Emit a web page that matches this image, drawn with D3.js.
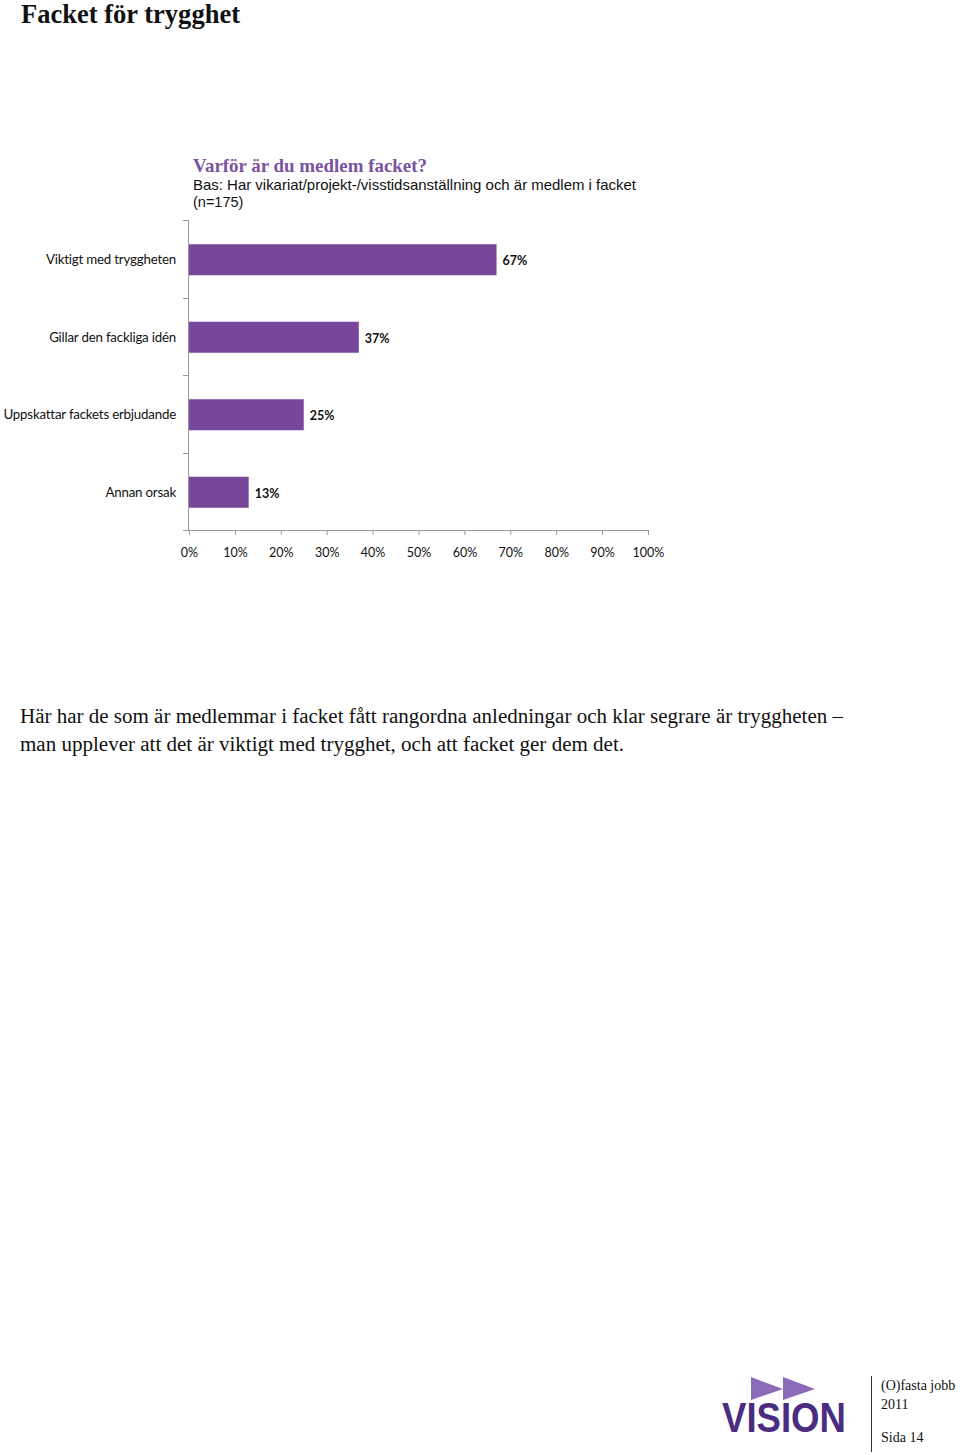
<!DOCTYPE html>
<html><head><meta charset="utf-8">
<script src="https://d3js.org/d3.v7.min.js"></script>
<style>body{margin:0;background:#fff}svg{display:block}</style>
</head><body>
<script>
const categories = ["Viktigt med tryggheten","Gillar den fackliga idén","Uppskattar fackets erbjudande","Annan orsak"];
const values = [67,37,25,13];
const tickValues = [0,10,20,30,40,50,60,70,80,90,100];
const tickLabels = ["0%","10%","20%","30%","40%","50%","60%","70%","80%","90%","100%"];

const W=960,H=1455;
const svg=d3.select("body").append("svg").attr("width",W).attr("height",H);
const purple="#78479b";

svg.append("text").attr("x",21).attr("y",22.5).attr("font-family","Liberation Serif").attr("font-weight","bold").attr("font-size",26.5).attr("fill","#111").attr("textLength",219).attr("lengthAdjust","spacingAndGlyphs").text("Facket för trygghet");

svg.append("text").attr("x",193).attr("y",172).attr("font-family","Liberation Serif").attr("font-weight","bold").attr("font-size",19.5).attr("fill","#7b52a0").attr("textLength",234).attr("lengthAdjust","spacingAndGlyphs").text("Varför är du medlem facket?");
svg.append("text").attr("x",193).attr("y",190).attr("font-family","Liberation Sans").attr("font-size",14.5).attr("fill","#111").attr("textLength",443).attr("lengthAdjust","spacingAndGlyphs").text("Bas: Har vikariat/projekt-/visstidsanställning och är medlem i facket");
svg.append("text").attr("x",193).attr("y",207).attr("font-family","Liberation Sans").attr("font-size",14.5).attr("fill","#111").text("(n=175)");

const x=d3.scaleLinear().domain([0,100]).range([189,648]);
const y=d3.scaleBand().domain(categories).range([221,531]).paddingInner(0.6).paddingOuter(0.3);

// x axis
const xa=svg.append("g").attr("transform","translate(0,530)")
  .call(d3.axisBottom(x).tickValues(tickValues).tickFormat((d,i)=>tickLabels[i]).tickSize(5).tickSizeOuter(0).tickPadding(13));
xa.select(".domain").attr("stroke","#999").attr("d","M183,0.5H648");
xa.selectAll(".tick line").attr("stroke","#999");
xa.selectAll(".tick text").attr("font-family","Lato").attr("font-size",12.5).attr("fill","#111");

// y axis line and ticks between categories
svg.append("line").attr("x1",188.5).attr("x2",188.5).attr("y1",220).attr("y2",530).attr("stroke","#999");
const step=(530-220)/categories.length;
const sepTicks=d3.range(categories.length).map(i=>220+i*step);
svg.selectAll(".ytk").data(sepTicks).enter().append("line").attr("x1",183).attr("x2",188).attr("y1",d=>Math.round(d)+0.5).attr("y2",d=>Math.round(d)+0.5).attr("stroke","#999");

// bars
svg.selectAll(".bar").data(categories).enter().append("rect")
  .attr("x",x(0)).attr("y",d=>y(d)).attr("width",(d,i)=>x(values[i])-x(0)).attr("height",y.bandwidth()).attr("fill",purple);

// category labels
svg.selectAll(".cl").data(categories).enter().append("text")
  .attr("x",176).attr("y",d=>y(d)+y.bandwidth()/2).attr("dy","0.35em").attr("text-anchor","end")
  .attr("font-family","Lato").attr("font-size",13.3).attr("fill","#111").attr("letter-spacing","-0.2").text(d=>d);

// value labels
svg.selectAll(".vl").data(categories).enter().append("text")
  .attr("x",(d,i)=>x(values[i])+6).attr("y",d=>y(d)+y.bandwidth()/2+1).attr("dy","0.35em")
  .attr("font-family","Lato").attr("font-weight","bold").attr("font-size",12.5).attr("fill","#111").text((d,i)=>values[i]+"%");

// paragraph
const para=["Här har de som är medlemmar i facket fått rangordna anledningar och klar segrare är tryggheten –","man upplever att det är viktigt med trygghet, och att facket ger dem det."];
const paraLen=[823,604];
svg.selectAll(".p").data(para).enter().append("text").attr("x",20).attr("y",(d,i)=>723+i*28)
  .attr("font-family","Liberation Serif").attr("font-size",20.5).attr("fill","#111")
  .attr("textLength",(d,i)=>paraLen[i]).attr("lengthAdjust","spacingAndGlyphs").text(d=>d);

// logo
const lg=svg.append("g");
lg.append("path").attr("d","M751,1377 L783,1389 L751,1400 Z").attr("fill","#8b6bb8");
lg.append("path").attr("d","M783,1377 L815,1389 L783,1400 Z").attr("fill","#8b6bb8");
lg.append("text").attr("x",722).attr("y",1432).attr("font-family","Liberation Sans").attr("font-weight","bold").attr("font-size",42).attr("fill","#4a2d80").attr("textLength",124).attr("lengthAdjust","spacingAndGlyphs").text("VISION");
lg.append("line").attr("x1",871.5).attr("x2",871.5).attr("y1",1376).attr("y2",1452).attr("stroke","#333");
lg.append("text").attr("x",881).attr("y",1390).attr("font-family","Liberation Serif").attr("font-size",14).attr("fill","#111").text("(O)fasta jobb");
lg.append("text").attr("x",881).attr("y",1409).attr("font-family","Liberation Serif").attr("font-size",14).attr("fill","#111").text("2011");
lg.append("text").attr("x",881).attr("y",1442).attr("font-family","Liberation Serif").attr("font-size",14).attr("fill","#111").text("Sida 14");
</script>
</body></html>
